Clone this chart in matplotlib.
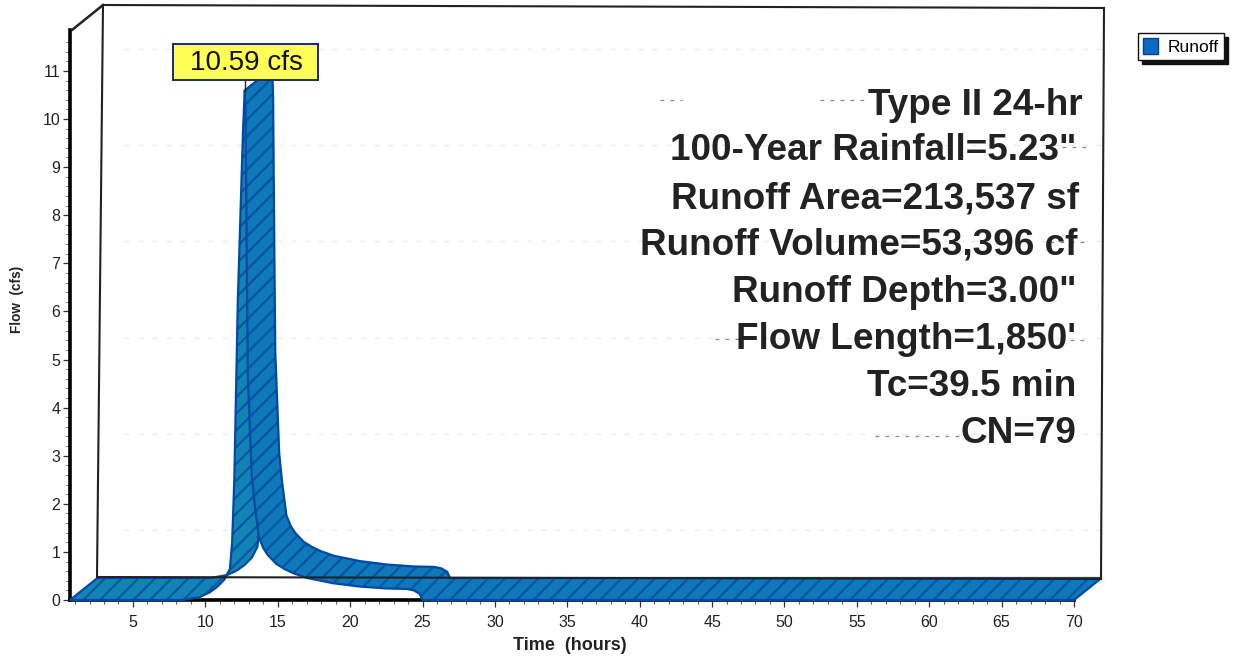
# -*- coding: utf-8 -*-
"""Runoff hydrograph, drawn as a 3D looking ribbon"""

import numpy as np
import matplotlib
matplotlib.use('Agg')
import matplotlib.pyplot as plt
from matplotlib.lines import Line2D
from matplotlib.patches import Patch, Rectangle

# rising limb of the hydrograph, up to the peak
rise_hours = [0.65, 8.45, 9.6, 10.3, 10.8, 11.3, 11.7, 11.85, 12.0, 12.24, 12.6, 12.72]
rise_cfs = [0, 0, 0.06, 0.16, 0.27, 0.42, 0.65, 1.2, 2.5, 6.2, 9.75, 10.59]

# falling limb, from the peak to the end of the run
fall_hours = [12.72, 12.78, 12.86, 12.93, 13.2, 13.4, 13.7, 14.0, 14.3, 14.9, 15.5, 16.05, 17.0,
              18.8, 20.65, 22.5, 23.9, 24.4, 24.8, 25.0, 70.0]
fall_cfs = [10.59, 10.0, 7.0, 4.7, 2.6, 2.0, 1.3, 1.08, 0.94, 0.75, 0.64, 0.56, 0.46,
            0.35, 0.28, 0.24, 0.23, 0.2, 0.13, 0, 0]

x_ticks = [5, 10, 15, 20, 25, 30, 35, 40, 45, 50, 55, 60, 65, 70]
y_ticks = [0, 1, 2, 3, 4, 5, 6, 7, 8, 9, 10, 11]
peak_label = '10.59 cfs'
series_name = 'Runoff'

notes = ['Type II 24-hr', '100-Year Rainfall=5.23"', 'Runoff Area=213,537 sf',
         'Runoff Volume=53,396 cf', 'Runoff Depth=3.00"', "Flow Length=1,850'",
         'Tc=39.5 min', 'CN=79']
notes_right = [1083, 1077, 1079, 1077, 1077, 1076, 1076, 1076]
notes_y = [105.5, 150.5, 198.5, 244.5, 292.5, 339.5, 386.5, 433.5]

W, H = 1237, 656
DEPTH_X = 27.5 / 14.48  # ribbon depth in hours
DEPTH_Y = 22 / 48.1     # ribbon depth in cfs

FILL = '#0f78b8'
FILL_RISE = '#1284b4'
HATCH = '#0556a6'
EDGE = '#0049a4'

plt.rcParams['font.family'] = ['Liberation Sans', 'DejaVu Sans']
plt.rcParams['hatch.linewidth'] = 1.6


def fx(x):
    return x / W


def fy(y):
    return 1 - y / H


def wall_line(x0, y0, x1, y1, **kw):
    """Line given in picture pixels, for the frame of the box"""
    fig.add_artist(Line2D([fx(x0), fx(x1)], [fy(y0), fy(y1)], **kw))


def ribbon(hours, cfs, face):
    """One surface of the ribbon, between the front curve and the back one"""
    hours = np.array(hours)
    cfs = np.array(cfs)
    xs = np.r_[hours, hours[::-1] + DEPTH_X]
    ys = np.r_[cfs, cfs[::-1] + DEPTH_Y]
    ax.fill(xs, ys, facecolor=face, edgecolor=HATCH, hatch='//', linewidth=0, clip_on=False, zorder=3)
    ax.fill(xs, ys, facecolor='none', edgecolor=EDGE, linewidth=1.6, clip_on=False, zorder=3)


fig = plt.figure(figsize=(W / 100, H / 100), dpi=100, facecolor='white')
ax = fig.add_axes([fx(70), fy(600), fx(1074 - 70), (600 - 30) / H])
ax.set_xlim(0.65, 70)
ax.set_ylim(0, 570 / 48.1)
ax.patch.set_alpha(0)

for side in ['top', 'right']:
    ax.spines[side].set_visible(False)
ax.spines['left'].set_linewidth(2.6)
ax.spines['bottom'].set_linewidth(2.6)

ax.set_xticks(x_ticks)
ax.set_yticks(y_ticks)
ax.set_xticks(np.arange(1, 71), minor=True)
ax.set_yticks(np.arange(0, 11.8, 0.2), minor=True)
ax.tick_params(axis='both', which='major', length=5, width=0.9, labelsize=11.5, color='#333333',
               labelcolor='#222222')
ax.tick_params(axis='both', which='minor', length=3, width=0.7, color='#555555')
ax.tick_params(axis='x', which='major', pad=6)
ax.tick_params(axis='y', which='major', pad=2)

# back wall of the box
frame = dict(color='#222222', linewidth=1.5)
wall_line(103, 5, 1104, 8, **frame)
wall_line(103, 5, 97, 577, **frame)
wall_line(1104, 8, 1101, 579, **frame)
wall_line(72, 30, 103, 5, color='#222222', linewidth=1.8)
wall_line(97, 577, 1101, 579, **frame)

# what is left of the gridlines on the wall after scanning
for q in y_ticks[1::2]:
    ax.plot([DEPTH_X + 2.5, 70 + DEPTH_X], [q + DEPTH_Y] * 2, color='#ececec', linewidth=1,
            linestyle=(0, (4, 6)), clip_on=False, zorder=1)

dark_dash = dict(color='#8a8a8a', linewidth=0.9, linestyle=(0, (3, 5)))
wall_line(660, 100, 682, 100, **dark_dash)
wall_line(820, 100, 866, 100, **dark_dash)
wall_line(1062, 147, 1087, 147, **dark_dash)
wall_line(1050, 242, 1087, 242, **dark_dash)
wall_line(715, 339, 740, 339, **dark_dash)
wall_line(1060, 340, 1087, 340, **dark_dash)
wall_line(875, 436, 962, 436, **dark_dash)

ribbon(rise_hours, rise_cfs, FILL_RISE)
ribbon(fall_hours, fall_cfs, FILL)

# leader of the peak label
ax.plot([rise_hours[-1], rise_hours[-1]], [rise_cfs[-1], rise_cfs[-1] + 0.3], color='#222222',
        linewidth=1, clip_on=False, zorder=4)

fig.add_artist(Rectangle((fx(173), fy(80)), fx(145), 36 / H, transform=fig.transFigure,
                         facecolor='#ffff55', edgecolor='#1a2a66', linewidth=1.4, zorder=5))
fig.text(fx(246), fy(63.5), peak_label, ha='center', va='center', fontsize=20, color='#111111', zorder=6)

for line, right, y in zip(notes, notes_right, notes_y):
    fig.text(fx(right), fy(y), line, ha='right', va='center', fontsize=26.6, fontweight='bold',
             color='#222222', zorder=6)

fig.text(fx(17), fy(299), 'Flow  (cfs)', rotation=90, ha='center', va='center', fontsize=9.8,
         fontweight='bold', color='#222222')
fig.text(fx(570), fy(645), 'Time  (hours)', ha='center', va='center', fontsize=13,
         fontweight='bold', color='#222222')

handle = Patch(facecolor='#0b6cc4', edgecolor='#0a3f8c', label=series_name)
fig.legend(handles=[handle], loc='upper left', bbox_to_anchor=(fx(1138), fy(33)), borderaxespad=0,
           fontsize=12.5, fancybox=False, framealpha=1, edgecolor='#111111', handlelength=0.85,
           handleheight=1.0, handletextpad=0.55, borderpad=0.3,
           shadow={'ox': 3, 'oy': -3, 'alpha': 1, 'color': '#111111'})

fig.savefig('out.png', dpi=100)
